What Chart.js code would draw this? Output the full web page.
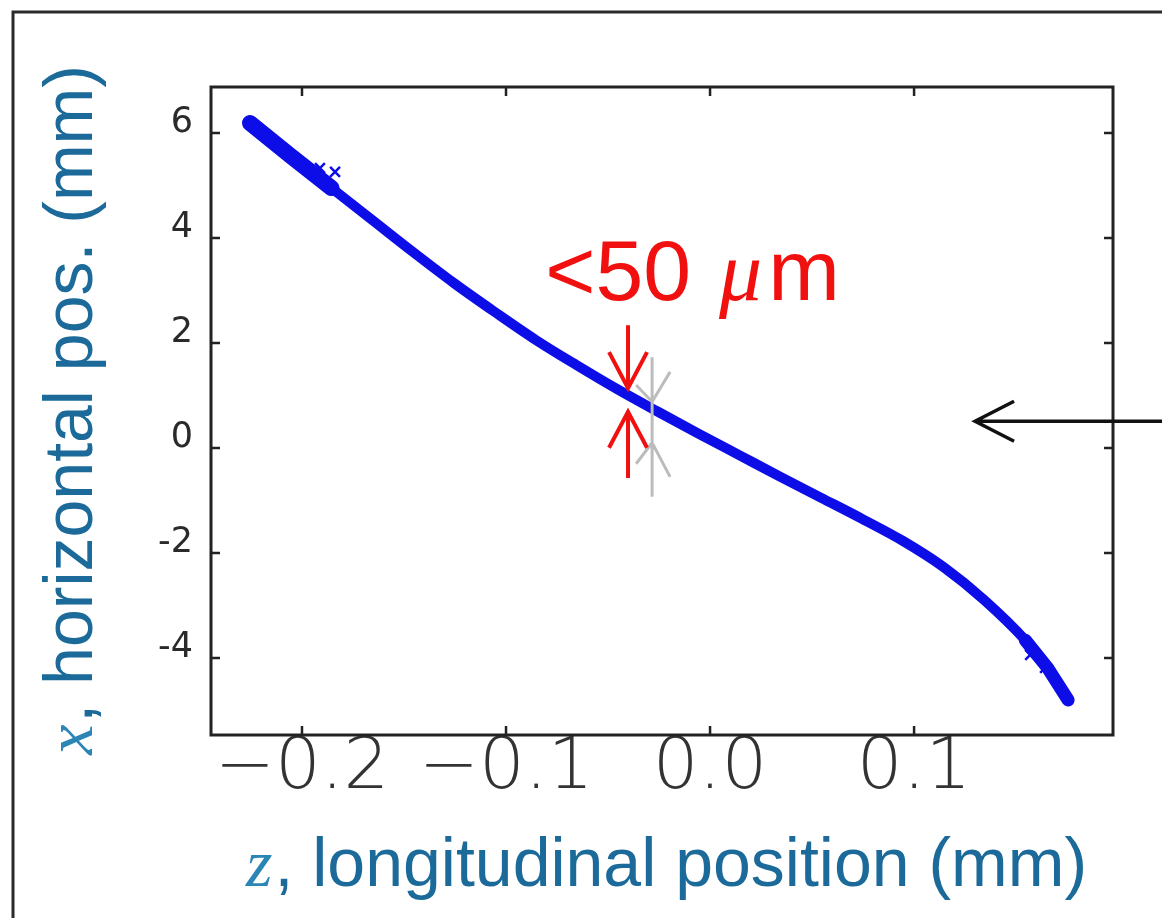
<!DOCTYPE html>
<html>
<head>
<meta charset="utf-8">
<script src="https://cdn.jsdelivr.net/npm/chart.js@4"></script>
<style>
  html, body { margin: 0; padding: 0; background: #ffffff; }
  #wrap { width: 1162px; height: 918px; position: relative; }
</style>
</head>
<body>
<div id="wrap"><canvas id="c"></canvas></div>
<script>
// ---- data ----
const zValues = [-0.2255, -0.2055, -0.1855, -0.1655, -0.1455, -0.1255, -0.1055, -0.0855, -0.0655, -0.0455, -0.0255, -0.0055, 0.0145, 0.0345, 0.0545, 0.0745, 0.0945, 0.1145, 0.1345, 0.1545, 0.1655, 0.1755];
const xValues = [6.19, 5.56, 4.95, 4.34, 3.73, 3.14, 2.59, 2.06, 1.58, 1.12, 0.69, 0.27, -0.14, -0.55, -0.95, -1.35, -1.77, -2.27, -2.90, -3.66, -4.19, -4.80];
const scatterZ = [-0.1912, -0.1838, 0.1569, 0.1642];
const scatterX = [5.33, 5.26, -3.94, -4.19];
const xTickValues = [-0.2, -0.1, 0.0, 0.1];
const xTickLabels = ['\u22120.2', '\u22120.1', '0.0', '0.1'];
const yTickValues = [-4, -2, 0, 2, 4, 6];
const yTickLabels = ['-4', '-2', '0', '2', '4', '6'];
const xTitleParts = ['z', ', longitudinal position (mm)'];
const yTitleParts = ['x', ', horizontal pos. (mm)'];
const annotationParts = ['<50 ', '\u03BC', 'm'];

const curve = zValues.map((z, i) => ({ x: z, y: xValues[i] }));
const marks = scatterZ.map((z, i) => ({ x: z, y: scatterX[i] }));

const BLUE = '#0d0de8';
const TITLE = '#1b6a9a';

const decor = {
  id: 'decor',
  afterDatasetsDraw(chart) {
    const { ctx, chartArea: a, scales } = chart;
    const sx = scales.x, sy = scales.y;
    ctx.save();
    // outer frame
    ctx.strokeStyle = '#2a2a2a';
    ctx.lineWidth = 3;
    ctx.beginPath();
    ctx.moveTo(13, 918); ctx.lineTo(13, 12); ctx.lineTo(1162, 12);
    ctx.stroke();
    // plot box
    ctx.lineWidth = 3;
    ctx.strokeStyle = '#222';
    ctx.strokeRect(a.left, a.top, a.right - a.left, a.bottom - a.top);
    // inward ticks
    ctx.lineWidth = 2.5;
    const tl = 9;
    ctx.beginPath();
    xTickValues.forEach(v => {
      const p = sx.getPixelForValue(v);
      ctx.moveTo(p, a.bottom); ctx.lineTo(p, a.bottom - tl);
      ctx.moveTo(p, a.top); ctx.lineTo(p, a.top + tl);
    });
    yTickValues.forEach(v => {
      const p = sy.getPixelForValue(v);
      ctx.moveTo(a.left, p); ctx.lineTo(a.left + tl, p);
      ctx.moveTo(a.right, p); ctx.lineTo(a.right - tl, p);
    });
    ctx.stroke();

    // gray marks
    const gx = sx.getPixelForValue(-0.0284);
    ctx.strokeStyle = '#bcbcbc';
    ctx.lineWidth = 3;
    ctx.beginPath();
    ctx.moveTo(gx, sy.getPixelForValue(1.73)); ctx.lineTo(gx, sy.getPixelForValue(-0.93));
    ctx.moveTo(gx - 16, sy.getPixelForValue(1.2)); ctx.lineTo(gx, sy.getPixelForValue(0.88));
    ctx.moveTo(gx + 18, sy.getPixelForValue(1.45)); ctx.lineTo(gx, sy.getPixelForValue(0.88));
    ctx.moveTo(gx - 16, sy.getPixelForValue(-0.3)); ctx.lineTo(gx, sy.getPixelForValue(0.1));
    ctx.moveTo(gx + 18, sy.getPixelForValue(-0.55)); ctx.lineTo(gx, sy.getPixelForValue(0.1));
    ctx.stroke();

    // red arrows
    const rx = sx.getPixelForValue(-0.0402);
    ctx.strokeStyle = '#f01010';
    ctx.lineWidth = 4;
    ctx.lineCap = 'butt';
    const t1 = sy.getPixelForValue(1.14), s1 = sy.getPixelForValue(2.34);
    const t2 = sy.getPixelForValue(0.69), s2 = sy.getPixelForValue(-0.57);
    ctx.beginPath();
    ctx.moveTo(rx, s1); ctx.lineTo(rx, t1);
    ctx.moveTo(rx - 19, t1 - 36); ctx.lineTo(rx, t1); ctx.lineTo(rx + 19, t1 - 36);
    ctx.moveTo(rx, s2); ctx.lineTo(rx, t2);
    ctx.moveTo(rx - 19, t2 + 36); ctx.lineTo(rx, t2); ctx.lineTo(rx + 19, t2 + 36);
    ctx.stroke();

    // annotation text
    ctx.fillStyle = '#f01010';
    ctx.textBaseline = 'alphabetic';
    ctx.textAlign = 'left';
    let tx = sx.getPixelForValue(-0.0808);
    const ty = sy.getPixelForValue(2.82);
    ctx.font = '86px "Liberation Sans", Arial, sans-serif';
    ctx.fillText(annotationParts[0], tx, ty);
    tx += ctx.measureText(annotationParts[0]).width + 4;
    ctx.font = 'italic 86px "Liberation Serif", "Times New Roman", serif';
    ctx.fillText(annotationParts[1], tx, ty);
    tx += ctx.measureText(annotationParts[1]).width + 6;
    ctx.font = '86px "Liberation Sans", Arial, sans-serif';
    ctx.fillText(annotationParts[2], tx, ty);

    // black arrow at right
    const ay = sy.getPixelForValue(0.51);
    const ax = sx.getPixelForValue(0.1299);
    ctx.strokeStyle = '#111';
    ctx.lineWidth = 3.5;
    ctx.lineJoin = 'miter';
    ctx.beginPath();
    ctx.moveTo(1162, ay); ctx.lineTo(ax, ay);
    ctx.moveTo(ax + 39, ay - 20); ctx.lineTo(ax, ay); ctx.lineTo(ax + 39, ay + 20);
    ctx.stroke();

    // axis titles
    const fs = 68;
    const serifI = `italic ${fs}px "Liberation Serif", "Times New Roman", serif`;
    const sans = `${fs}px "Liberation Sans", Arial, sans-serif`;
    // x title
    let px = 246;
    const pb = 886;
    ctx.font = serifI;
    ctx.fillStyle = '#2b86b5';
    ctx.fillText(xTitleParts[0], px, pb);
    px += ctx.measureText(xTitleParts[0]).width + 2;
    ctx.font = sans;
    ctx.fillStyle = TITLE;
    ctx.fillText(xTitleParts[1], px, pb);
    // y title (rotated)
    ctx.font = serifI;
    const w0 = ctx.measureText(yTitleParts[0]).width + 2;
    ctx.font = sans;
    const w1 = ctx.measureText(yTitleParts[1]).width;
    ctx.translate(92, 410);
    ctx.rotate(-Math.PI / 2);
    let qx = -(w0 + w1) / 2;
    ctx.font = serifI;
    ctx.fillStyle = '#2b86b5';
    ctx.fillText(yTitleParts[0], qx, 0);
    qx += w0;
    ctx.font = sans;
    ctx.fillStyle = TITLE;
    ctx.fillText(yTitleParts[1], qx, 0);
    ctx.restore();
  }
};

new Chart(document.getElementById('c'), {
  type: 'scatter',
  data: {
    datasets: [
      {
        label: 'trajectory',
        data: curve,
        showLine: true,
        borderColor: BLUE,
        backgroundColor: BLUE,
        borderWidth: 10,
        pointRadius: 0,
        cubicInterpolationMode: 'monotone',
        borderCapStyle: 'round',
        borderJoinStyle: 'round'
      },
      {
        label: 'start',
        data: curve.slice(0, 3),
        showLine: true,
        borderColor: BLUE,
        borderWidth: 16,
        pointRadius: 0,
        borderCapStyle: 'round'
      },
      {
        label: 'end',
        data: curve.slice(-3),
        showLine: true,
        borderColor: BLUE,
        borderWidth: 13,
        pointRadius: 0,
        borderCapStyle: 'round'
      },
      {
        label: 'marks',
        data: marks,
        pointStyle: 'crossRot',
        pointRadius: 7,
        borderColor: BLUE,
        borderWidth: 2.5,
        showLine: false
      }
    ]
  },
  options: {
    responsive: true,
    maintainAspectRatio: false,
    animation: false,
    events: [],
    layout: { padding: { top: 87, right: 49, left: 0, bottom: 0 } },
    plugins: { legend: { display: false }, tooltip: { enabled: false }, title: { display: false } },
    scales: {
      x: {
        type: 'linear',
        min: -0.2446,
        max: 0.1975,
        afterBuildTicks: s => { s.ticks = xTickValues.map(v => ({ value: v })); },
        afterFit: s => { s.height = 183; },
        grid: { display: false, drawTicks: false },
        border: { display: false },
        ticks: {
          autoSkip: false,
          maxRotation: 0,
          padding: -9,
          color: '#333333',
          font: { family: '"DejaVu Sans", "Liberation Sans", sans-serif', size: 72, weight: 200 },
          callback: (v, i) => xTickLabels[i]
        }
      },
      y: {
        type: 'linear',
        min: -5.467,
        max: 6.876,
        afterBuildTicks: s => { s.ticks = yTickValues.map(v => ({ value: v })); },
        afterFit: s => { s.width = 211; },
        grid: { display: false, drawTicks: false },
        border: { display: false },
        ticks: {
          autoSkip: false,
          padding: 18,
          labelOffset: -10,
          color: '#2a2a2a',
          font: { family: '"DejaVu Sans", "Liberation Sans", sans-serif', size: 35 },
          callback: (v, i) => yTickLabels[i]
        }
      }
    }
  },
  plugins: [decor]
});
</script>
</body>
</html>
